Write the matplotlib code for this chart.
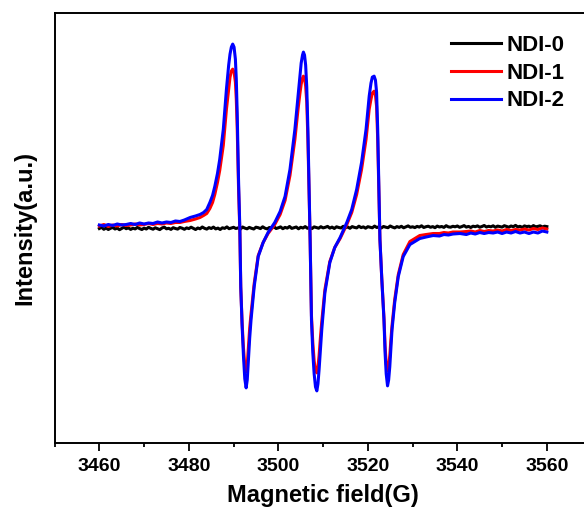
import numpy as np
import matplotlib
matplotlib.use("Agg")
import matplotlib.pyplot as plt
from matplotlib.ticker import MultipleLocator

plt.rcParams['font.family'] = ['Liberation Sans', 'DejaVu Sans']
plt.rcParams['font.weight'] = 'bold'

# NDI-0: flat, noisy baseline sampled every 0.5 G
field_0 = np.arange(3460, 3560.25, 0.5)
ndi_0 = [
    -1.0, 0.2, -1.8, -0.5, -2.0, -0.8, 0.0, -1.5, -0.6, -2.2, -1.0, 0.3, -1.2, -0.4, -1.9, -0.7, -1.4, 0.1, -1.1, -2.0,
    -0.6, -1.5, 0.2, -0.9, -1.7, -0.3, -1.2, -2.1, -0.5, 0.4, -1.3, -0.8, -1.9, -0.2, -1.0, -1.6, 0.0, -0.7, -1.8, -0.4,
    -1.1, 0.3, -0.9, -2.0, -0.5, -1.3, 0.5, -0.8, -1.6, -0.1, -1.0, 0.4, -1.4, -0.6, -2.0, -0.3, -0.9, 0.6, -1.2, -0.5,
    0.2, -1.0, -0.4, -1.7, 0.5, -0.6, -1.3, 0.1, -0.8, -1.5, 0.3, -0.2, -1.1, 0.7, -0.7, -1.4, 0.0, -0.5, 0.8, -1.0,
    -0.3, 0.6, -1.2, 0.1, -0.6, 1.0, -0.9, -0.2, 0.5, -1.3, 0.2, -0.5, 0.9, -0.8, 0.3, -1.1, 0.6, -0.1, -0.7, 0.8,
    -0.4, 0.2, 1.1, -0.6, 0.4, -1.0, 0.7, 0.0, -0.5, 1.2, -0.2, 0.5, -0.8, 0.9, 0.1, -0.4, 1.3, -0.1, 0.6, -0.7,
    0.8, 0.2, -0.3, 1.4, 0.0, 0.7, -0.5, 1.0, 0.3, -0.2, 1.5, 0.4, -0.4, 0.9, 0.1, 1.2, -0.3, 0.6, 1.6, 0.2,
    0.7, -0.1, 1.1, 0.4, 1.7, 0.0, 0.8, 1.3, 0.2, 0.9, -0.2, 1.4, 0.5, 1.0, 0.1, 1.8, 0.6, 0.3, 1.2, 0.7,
    1.5, 0.2, 0.9, 1.9, 0.4, 1.1, 0.0, 1.3, 0.8, 1.6, 0.3, 1.0, 2.0, 0.5, 1.2, 0.7, 1.7, 0.2, 1.4, 0.9,
    0.4, 1.8, 1.0, 0.3, 1.5, 0.8, 2.1, 0.6, 1.2, 0.1, 1.6, 0.9, 1.3, 0.4, 1.9, 0.7, 1.1, 1.7, 0.5, 1.3,
    0.9,
]

# NDI-1 / NDI-2: three-line derivative spectrum
field_12 = [
    3460, 3461, 3462, 3463, 3464, 3465, 3466, 3467, 3468, 3469,
    3470, 3471, 3472, 3473, 3474, 3475, 3476, 3477, 3478, 3479,
    3480.3, 3481.5, 3482.5, 3483.3, 3484.0, 3484.7, 3485.3, 3485.8, 3486.4, 3486.9,
    3487.7, 3488.4, 3488.9, 3489.2, 3489.5, 3489.8, 3490.1, 3490.4, 3490.6, 3490.8,
    3491.1, 3491.4, 3491.6, 3491.9, 3492.2, 3492.5, 3492.8, 3493.05, 3493.3, 3493.6,
    3493.9, 3494.6, 3495.5, 3496.6, 3497.7, 3499.2, 3500.4, 3501.5, 3502.6, 3503.7,
    3504.4, 3504.8, 3505.1, 3505.4, 3505.6, 3505.85, 3506.1, 3506.35, 3506.6, 3506.9,
    3507.1, 3507.4, 3507.7, 3508.0, 3508.3, 3508.6, 3508.85, 3509.1, 3509.4, 3509.7,
    3510.4, 3511.5, 3512.6, 3513.8, 3515.3, 3516.4, 3517.5, 3518.6, 3519.6, 3520.3,
    3520.7, 3521.0, 3521.4, 3521.7, 3521.95, 3522.2, 3522.5, 3522.7, 3523.1, 3523.6,
    3523.85, 3524.1, 3524.4, 3524.65, 3524.9, 3525.15, 3525.4, 3526.0, 3526.8, 3527.9,
    3529.4, 3530.5, 3531.6, 3533, 3534.6, 3536, 3537, 3538, 3539, 3540.6,
    3542, 3543, 3544, 3545, 3546, 3547, 3548, 3549, 3550, 3551,
    3552, 3553, 3554, 3555, 3556, 3557, 3558, 3559, 3560,
]
ndi_1 = [
    1.5, 3, 1, 2.5, 1.5, 3, 2, 2.5, 3.5, 2.5,
    3, 4, 3, 4, 3.5, 4.5, 4, 5, 5, 6,
    7, 8.5, 10, 12, 14, 19, 25, 33, 45, 57,
    82, 118, 138, 150, 156, 158, 155, 145, 128, 100,
    40, -5, -60, -95, -120, -138, -144, -137, -120, -100,
    -86, -56, -28, -15, -6, 3, 13, 27, 52, 88,
    118, 133, 143, 149, 151, 149, 141, 125, 88, 28,
    -12, -88, -115, -133, -143, -145, -139, -128, -110, -94,
    -62, -34, -20, -11, 3, 15, 33, 58, 88, 118,
    128, 134, 136, 132, 121, 88, 28, -12, -50, -90,
    -118, -136, -143, -138, -128, -112, -98, -72, -47, -27,
    -14, -11, -8, -7, -6, -6, -5, -5.5, -4.5, -4.5,
    -4, -3.5, -4.5, -3, -4, -3, -3.5, -2.5, -3.5, -2,
    -3, -2, -2.5, -1.5, -2.5, -1, -2, -0.5, -1.5,
]
ndi_2 = [
    2.5, 1.5, 3, 2, 3.5, 2.5, 3, 4, 3, 4.5,
    3.5, 4.5, 4, 5.5, 4.5, 5.5, 5, 6.5, 6, 7.5,
    10, 11.5, 13, 15, 18, 25, 32, 41, 54, 68,
    98, 138, 162, 173, 180, 183, 180, 168, 148, 115,
    48, -2, -59, -98, -128, -151, -160, -152, -133, -110,
    -92, -59, -29, -15, -5, 5, 16, 31, 58, 98,
    131, 150, 164, 172, 175, 172, 162, 140, 98, 31,
    -12, -92, -125, -146, -159, -163, -156, -142, -122, -102,
    -65, -35, -20, -10, 5, 18, 38, 65, 98, 131,
    144, 150, 151, 147, 135, 98, 31, -12, -50, -92,
    -125, -146, -158, -152, -139, -120, -102, -75, -49, -29,
    -17, -14, -11, -9.5, -8, -8.5, -7, -7.5, -6.5, -6,
    -7, -5.5, -6.5, -5, -6, -5, -5.5, -4.5, -6, -4.5,
    -5.5, -4, -5.5, -4.5, -6, -4.5, -5.5, -3.5, -4.5,
]

fig = plt.figure(figsize=(5.84, 5.11), dpi=100)
# right edge of the frame sits just outside the picture, as in the original
ax = fig.add_axes([54.6 / 584, 68 / 511, 537 / 584, 430 / 511])

ax.plot(field_0, ndi_0, color="black", lw=2.2, label="NDI-0")
ax.plot(field_12, ndi_1, color="red", lw=2.2, label="NDI-1")
ax.plot(field_12, ndi_2, color="blue", lw=2.2, label="NDI-2")

ax.set_xlim(3450, 3570)
ax.set_ylim(-215, 214)

ax.xaxis.set_major_locator(MultipleLocator(20))
ax.xaxis.set_minor_locator(MultipleLocator(10))
ax.set_yticks([])
ax.tick_params(axis="x", which="major", direction="out", length=6, width=1.3,
               labelsize=14, pad=5)
ax.tick_params(axis="x", which="minor", direction="out", length=3, width=1.3)
for s in ax.spines.values():
    s.set_linewidth(1.4)

ax.set_xlabel("Magnetic field(G)", fontsize=17, fontweight="bold", labelpad=6)
ax.set_ylabel("Intensity(a.u.)", fontsize=17, fontweight="bold")
ax.yaxis.set_label_coords((36 - 54.6) / 537, 0.5)

ax.legend(loc="upper left", bbox_to_anchor=(450.6 / 584, 1 - 35 / 511),
          bbox_transform=fig.transFigure, frameon=False,
          handlelength=2.27, handletextpad=0.25, labelspacing=0.3,
          borderpad=0, borderaxespad=0, prop={"weight": "bold", "size": 16})

fig.savefig("out.png", dpi=100)
